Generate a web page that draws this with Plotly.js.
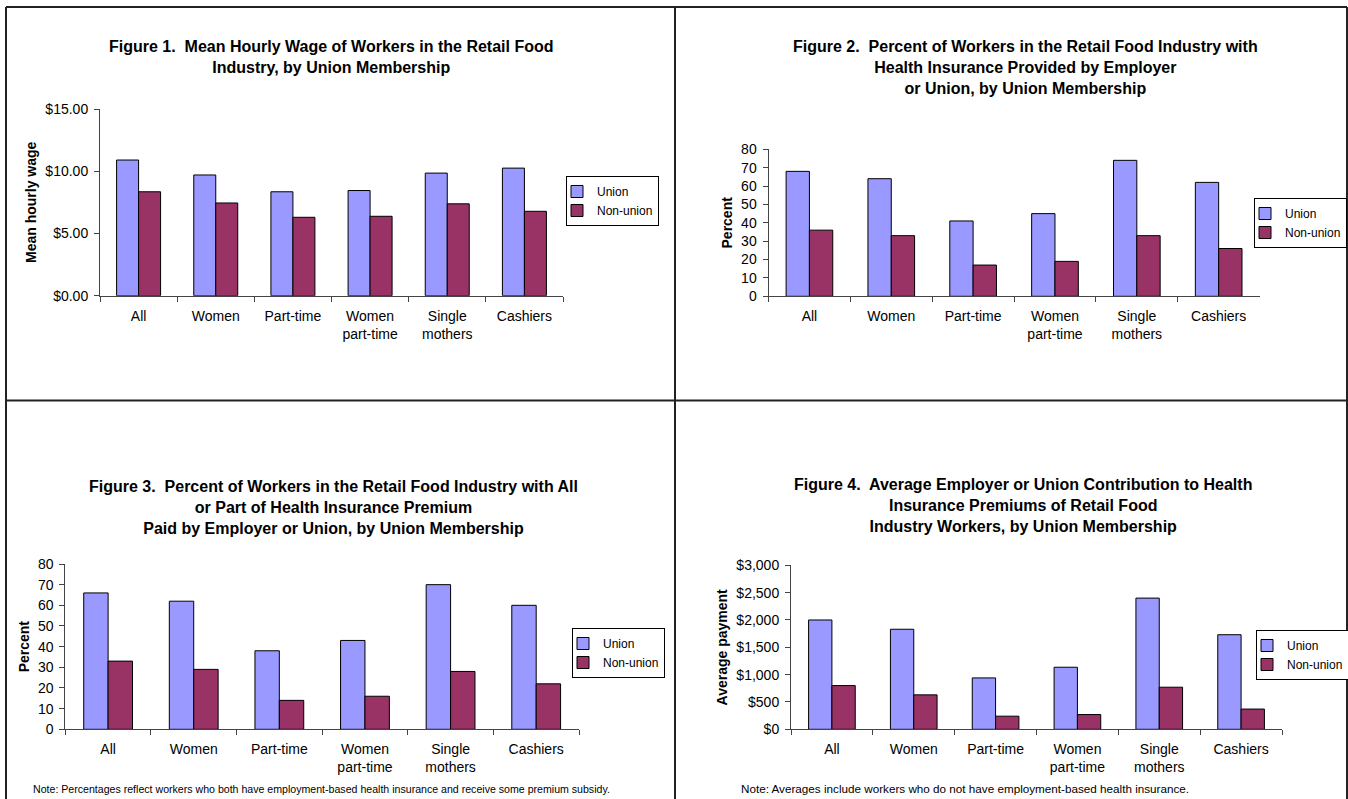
<!DOCTYPE html>
<html><head><meta charset="utf-8">
<script src="https://cdn.plot.ly/plotly-3.0.1.min.js"></script>
<style>html,body{margin:0;padding:0;background:#fff;} #chart{width:1348px;height:799px;}</style>
</head><body><div id="chart"></div>
<script>
// ---- data ----
const categories = ["All", "Women", "Part-time", "Women<br>part-time", "Single<br>mothers", "Cashiers"];
const seriesNames = ["Union", "Non-union"];
const wageUnion = [10.90, 9.70, 8.35, 8.45, 9.85, 10.25];
const wageNonUnion = [8.35, 7.45, 6.30, 6.38, 7.38, 6.78];
const insuredUnion = [68, 64, 41, 45, 74, 62];
const insuredNonUnion = [36, 33, 17, 19, 33, 26];
const premiumPaidUnion = [66, 62, 38, 43, 70, 60];
const premiumPaidNonUnion = [33, 29, 14, 16, 28, 22];
const contributionUnion = [2000, 1830, 940, 1135, 2400, 1730];
const contributionNonUnion = [800, 630, 240, 270, 770, 370];
const chartTitles = [
  "Figure 1.  Mean Hourly Wage of Workers in the Retail Food<br>Industry, by Union Membership",
  "Figure 2.  Percent of Workers in the Retail Food Industry with<br>Health Insurance Provided by Employer<br>or Union, by Union Membership",
  "Figure 3.  Percent of Workers in the Retail Food Industry with All<br>or Part of Health Insurance Premium<br>Paid by Employer or Union, by Union Membership",
  "Figure 4.  Average Employer or Union Contribution to Health<br>Insurance Premiums of Retail Food<br>Industry Workers, by Union Membership"
];
const axisTitles = ["Mean hourly wage", "Percent", "Percent", "Average payment"];
const notes = [
  "Note: Percentages reflect workers who both have employment-based health insurance and receive some premium subsidy.",
  "Note: Averages include workers who do not have employment-based health insurance."
];

// ---- layout helpers (pixel -> paper) ----
const W = 1348, H = 799;
const px = x => x / W;
const py = y => 1 - y / H;
const FONT = "Liberation Sans, Arial, sans-serif";
const UNION_COLOR = "#9999FF", NON_COLOR = "#993366";
const AX = "#444444";

const seriesData = [
  [wageUnion, wageNonUnion],
  [insuredUnion, insuredNonUnion],
  [premiumPaidUnion, premiumPaidNonUnion],
  [contributionUnion, contributionNonUnion]
];
const colors = [UNION_COLOR, NON_COLOR];

const traces = [];
seriesData.forEach((pair, i) => {
  const sfx = i === 0 ? "" : String(i + 1);
  pair.forEach((vals, j) => {
    traces.push({
      type: "bar", x: categories, y: vals, name: seriesNames[j],
      xaxis: "x" + sfx, yaxis: "y" + sfx,
      legend: "legend" + sfx,
      marker: {color: colors[j], line: {color: "#000", width: 1}},
      hoverinfo: "x+y+name"
    });
  });
});

// plot areas in pixels: [left, right, top(max), bottom(0)]
const boxes = [
  [100, 563, 109, 295.7],
  [768.5, 1259.6, 149.3, 296.3],
  [65.3, 579, 564, 729.3],
  [791, 1282, 565.3, 729.3]
];
const yCfg = [
  {range: [0, 15], dtick: 5, tickprefix: "$", tickformat: ".2f"},
  {range: [0, 80], dtick: 10},
  {range: [0, 80], dtick: 10},
  {range: [0, 3000], dtick: 500, tickprefix: "$", tickformat: ",d"}
];
const legendPos = [[566, 176], [1254, 198], [572, 628], [1256, 630]];
const titleCenters = [[331, 57.2], [1025, 67.3], [333, 507.3], [1023, 506]];

const layout = {
  width: W, height: H,
  margin: {l: 0, r: 0, t: 0, b: 0, autoexpand: false},
  paper_bgcolor: "#fff", plot_bgcolor: "#fff",
  font: {family: FONT, color: "#000", size: 14},
  bargap: 0.43, bargroupgap: 0, barmode: "group",
  annotations: [], shapes: []
};

boxes.forEach((b, i) => {
  const sfx = i === 0 ? "" : String(i + 1);
  layout["xaxis" + sfx] = {
    domain: [px(b[0]), px(b[1])], anchor: "y" + sfx,
    type: "category", range: [-0.5, 5.5], tickson: "boundaries",
    ticks: "outside", ticklen: 5, tickcolor: AX, tickwidth: 1, ticklabelstandoff: 7,
    showline: true, linecolor: AX, linewidth: 1,
    showgrid: false, zeroline: false, fixedrange: true, automargin: false,
    tickfont: {size: 14, family: FONT}
  };
  layout["yaxis" + sfx] = Object.assign({
    domain: [py(b[3]), py(b[2])], anchor: "x" + sfx,
    ticks: "outside", ticklen: 5, tickcolor: AX, tickwidth: 1, ticklabelstandoff: 3,
    showline: true, linecolor: AX, linewidth: 1,
    showgrid: false, zeroline: false, fixedrange: true, automargin: false,
    tickfont: {size: 14, family: FONT},
    title: {text: "<b>" + axisTitles[i] + "</b>", font: {size: 14, family: FONT}, standoff: 5}
  }, yCfg[i]);
  layout["legend" + sfx] = {
    x: px(legendPos[i][0]), y: py(legendPos[i][1]), xanchor: "left", yanchor: "top",
    xref: "paper", yref: "paper",
    bgcolor: "#fff", bordercolor: "#000", borderwidth: 1, indentation: -10,
    font: {size: 12, family: FONT}, itemwidth: 30, tracegroupgap: 0
  };
  layout.annotations.push({
    xref: "paper", yref: "paper", x: px(titleCenters[i][0]), y: py(titleCenters[i][1]),
    xanchor: "center", yanchor: "middle", align: "center", showarrow: false,
    text: "<b>" + chartTitles[i] + "</b>", font: {size: 16, family: FONT}
  });
});

layout.annotations.push({
  xref: "paper", yref: "paper", x: px(31), y: py(789), xanchor: "left", yanchor: "middle",
  showarrow: false, text: notes[0], font: {size: 10.6, family: FONT}
});
layout.annotations.push({
  xref: "paper", yref: "paper", x: px(739), y: py(788), xanchor: "left", yanchor: "middle",
  showarrow: false, text: notes[1], font: {size: 11.7, family: FONT}
});

// panel borders
const borderLines = [
  [6, 7, 6, H], [6, 7, 1347, 7], [1347, 7, 1347, H],
  [675, 7, 675, H], [6, 400.5, 1347, 400.5]
];
borderLines.forEach(l => layout.shapes.push({
  type: "line", xref: "paper", yref: "paper",
  x0: px(l[0]), y0: py(l[1]), x1: px(l[2]), y1: py(l[3]),
  line: {color: "#222", width: 2}
}));

Plotly.newPlot("chart", traces, layout, {displayModeBar: false, staticPlot: true});
</script>
</body></html>
